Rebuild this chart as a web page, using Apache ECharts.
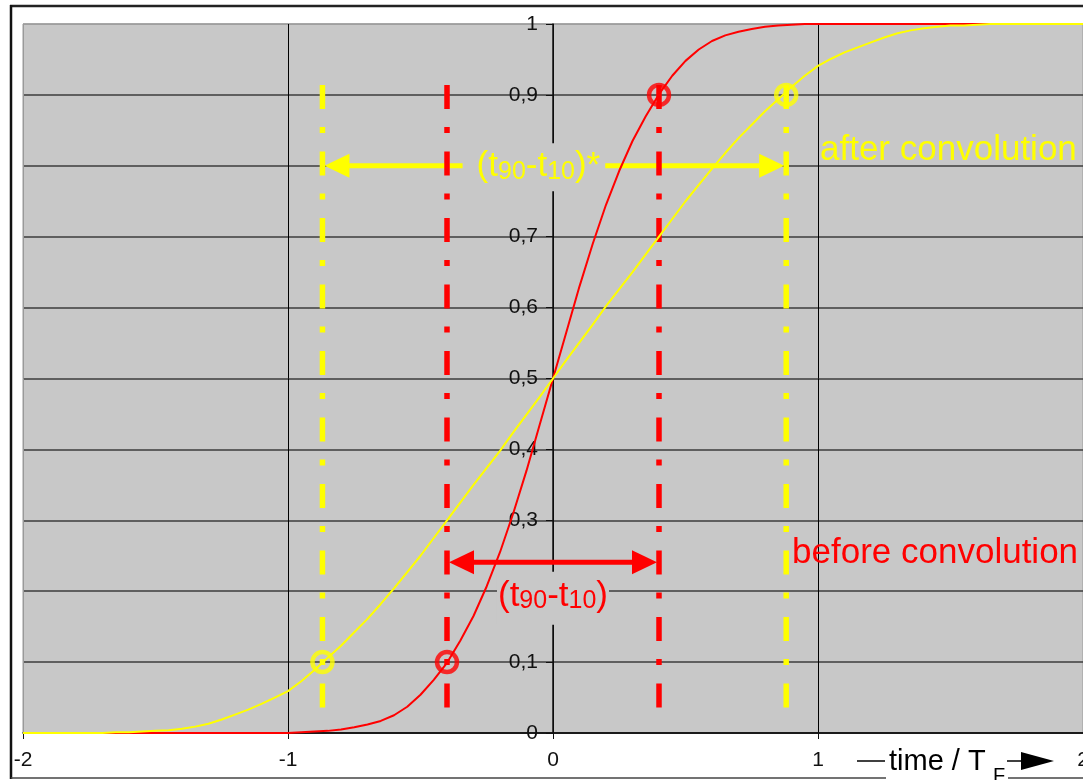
<!DOCTYPE html>
<html>
<head>
<meta charset="utf-8">
<script src="https://cdn.jsdelivr.net/npm/echarts@6/dist/echarts.min.js"></script>
<style>
  html, body { margin: 0; padding: 0; background: #ffffff; }
  #chart { width: 1083px; height: 780px; }
</style>
</head>
<body>
<div id="chart"></div>
<script>
// Normalised time axis (time / T_F)
const timeValues = [
  -2.00, -1.95, -1.90, -1.85, -1.80, -1.75, -1.70, -1.65, -1.60, -1.55,
  -1.50, -1.45, -1.40, -1.35, -1.30, -1.25, -1.20, -1.15, -1.10, -1.05,
  -1.00, -0.95, -0.90, -0.85, -0.80, -0.75, -0.70, -0.65, -0.60, -0.55,
  -0.50, -0.45, -0.40, -0.35, -0.30, -0.25, -0.20, -0.15, -0.10, -0.05,
   0.00,
   0.05,  0.10,  0.15,  0.20,  0.25,  0.30,  0.35,  0.40,  0.45,  0.50,
   0.55,  0.60,  0.65,  0.70,  0.75,  0.80,  0.85,  0.90,  0.95,  1.00,
   1.05,  1.10,  1.15,  1.20,  1.25,  1.30,  1.35,  1.40,  1.45,  1.50,
   1.55,  1.60,  1.65,  1.70,  1.75,  1.80,  1.85,  1.90,  1.95,  2.00
];

// Step response before convolution (red)
const beforeConvolution = [
  0, 0, 0, 0, 0, 0, 0, 0, 0, 0,
  0, 0, 0, 0, 0, 0, 0, 0, 0, 0,
  0, 0.001, 0.002, 0.003, 0.005, 0.008, 0.012, 0.017, 0.025, 0.037,
  0.054, 0.075, 0.099, 0.13, 0.165, 0.207, 0.255, 0.31, 0.37, 0.435,
  0.5,
  0.565, 0.63, 0.69, 0.745, 0.793, 0.835, 0.87, 0.901, 0.927, 0.948,
  0.964, 0.976, 0.984, 0.989, 0.993, 0.996, 0.998, 0.999, 1, 1,
  1, 1, 1, 1, 1, 1, 1, 1, 1, 1,
  1, 1, 1, 1, 1, 1, 1, 1, 1, 1
];

// Step response after convolution (yellow)
const afterConvolution = [
  0, 0, 0, 0, 0, 0, 0, 0.001, 0.001, 0.002,
  0.003, 0.004, 0.006, 0.009, 0.013, 0.019, 0.026, 0.033, 0.041, 0.05,
  0.059, 0.073, 0.089, 0.106, 0.123, 0.142, 0.161, 0.182, 0.204, 0.227,
  0.25, 0.275, 0.3, 0.325, 0.35, 0.374, 0.398, 0.424, 0.449, 0.474,
  0.5,
  0.526, 0.551, 0.576, 0.602, 0.626, 0.65, 0.675, 0.7, 0.725, 0.75,
  0.773, 0.796, 0.818, 0.839, 0.858, 0.877, 0.894, 0.911, 0.927, 0.941,
  0.951, 0.96, 0.967, 0.974, 0.981, 0.987, 0.991, 0.994, 0.996, 0.998,
  0.998, 0.999, 1, 1, 1, 1, 1, 1, 1, 1
];

// 10 % / 90 % crossing times
const beforeT10 = -0.4, beforeT90 = 0.4;
const afterT10 = -0.87, afterT90 = 0.88;
const level10 = 0.1, level90 = 0.9;

// Extent of the dash-dot marker lines and heights of the width arrows
const guideTop = 0.914, guideBottom = 0.032;
const afterArrowLevel = 0.8;
const beforeArrowLevel = 0.241;

const xTicks = { min: -2, max: 2, step: 1 };
const yTicks = { min: 0, max: 1, step: 0.1 };

const RED = '#ff0000';
const YELLOW = '#ffff00';
const PLOT_BG = '#c8c8c8';
const FONT = "'Liberation Sans', Arial, sans-serif";

const pairs = (ys) => timeValues.map((t, i) => [t, ys[i]]);

function arrowItem(params, api) {
  const x1 = api.value(0), x2 = api.value(1), y = api.value(2);
  const p1 = api.coord([x1, y]);
  const p2 = api.coord([x2, y]);
  const color = api.visual('color');
  const head = 25, half = 12;
  return {
    type: 'group',
    children: [
      { type: 'line', shape: { x1: p1[0] + head - 2, y1: p1[1], x2: p2[0] - head + 2, y2: p2[1] },
        style: { stroke: color, lineWidth: 5 } },
      { type: 'polygon', shape: { points: [[p1[0] + 2, p1[1]], [p1[0] + 2 + head, p1[1] - half], [p1[0] + 2 + head, p1[1] + half]] },
        style: { fill: color } },
      { type: 'polygon', shape: { points: [[p2[0] - 2, p2[1]], [p2[0] - 2 - head, p2[1] - half], [p2[0] - 2 - head, p2[1] + half]] },
        style: { fill: color } }
    ]
  };
}

function guideSeries(x, color) {
  return {
    type: 'line',
    z: 3,
    data: [[x, guideTop], [x, guideBottom]],
    symbol: 'none',
    silent: true,
    lineStyle: { color: color, width: 5.5, type: [24, 18, 6, 18.5] }
  };
}

const richWidth = {
  m: { fontSize: 35, lineHeight: 35, verticalAlign: 'bottom', fontFamily: FONT },
  s: { fontSize: 25, lineHeight: 17, verticalAlign: 'bottom', fontFamily: FONT }
};

const chart = echarts.init(document.getElementById('chart'), null, { renderer: 'canvas' });

chart.setOption({
  animation: false,
  backgroundColor: '#ffffff',
  grid: {
    left: 23, right: 0, top: 24, bottom: 47,
    containLabel: false, outerBoundsMode: 'none',
    show: true, backgroundColor: PLOT_BG, borderColor: '#9a9a9a', borderWidth: 1
  },
  xAxis: {
    type: 'value', min: xTicks.min, max: xTicks.max, interval: xTicks.step,
    axisLine: { onZero: false, lineStyle: { color: '#111', width: 1.5 } },
    axisTick: { show: true, length: 6, lineStyle: { color: '#111' } },
    axisLabel: { fontSize: 21, color: '#111', margin: 17, fontFamily: FONT },
    splitLine: { show: true, lineStyle: { color: ['#9a9a9a', '#000', '#000', '#000', '#9a9a9a'], width: 1 } }
  },
  yAxis: {
    type: 'value', min: yTicks.min, max: yTicks.max, interval: yTicks.step,
    position: 'left', offset: -530,
    axisLine: { show: true, onZero: false, lineStyle: { color: '#111', width: 1.5 } },
    axisTick: { show: true, length: 7, lineStyle: { color: '#111' } },
    axisLabel: {
      fontSize: 21, color: '#111', margin: 15, fontFamily: FONT,
      formatter: (v) => String(Math.round(v * 10) / 10).replace('.', ',')
    },
    splitLine: {
      show: true,
      lineStyle: {
        color: ['#111', '#3c3c3c', '#3c3c3c', '#3c3c3c', '#3c3c3c', '#3c3c3c',
                '#3c3c3c', '#3c3c3c', '#3c3c3c', '#3c3c3c', '#9a9a9a'],
        width: 1.5
      }
    }
  },
  series: [
    // width arrows
    {
      type: 'custom', z: 2, silent: true,
      renderItem: arrowItem,
      itemStyle: { color: YELLOW },
      encode: { x: [0, 1], y: 2 },
      data: [[afterT10, afterT90, afterArrowLevel]]
    },
    {
      type: 'custom', z: 2, silent: true,
      renderItem: arrowItem,
      itemStyle: { color: RED },
      encode: { x: [0, 1], y: 2 },
      data: [[beforeT10, beforeT90, beforeArrowLevel]]
    },
    // dash-dot markers at the 10 % / 90 % times
    guideSeries(afterT10, YELLOW),
    guideSeries(afterT90, YELLOW),
    guideSeries(beforeT10, RED),
    guideSeries(beforeT90, RED),
    // response curves
    {
      name: 'before convolution', type: 'line', z: 4,
      data: pairs(beforeConvolution),
      symbol: 'none',
      lineStyle: { color: RED, width: 2 }
    },
    {
      name: 'after convolution', type: 'line', z: 4,
      data: pairs(afterConvolution),
      symbol: 'none',
      lineStyle: { color: YELLOW, width: 2 }
    },
    // crossing points
    {
      type: 'scatter', z: 5, silent: true,
      symbol: 'circle', symbolSize: 20,
      itemStyle: { color: 'rgba(0,0,0,0)', borderColor: RED, borderWidth: 4.5 },
      data: [[beforeT10, level10], [beforeT90, level90]]
    },
    {
      type: 'scatter', z: 5, silent: true,
      symbol: 'circle', symbolSize: 20,
      itemStyle: { color: 'rgba(0,0,0,0)', borderColor: YELLOW, borderWidth: 4.5 },
      data: [[afterT10, level10], [afterT90, level90]]
    }
  ]
});

// Text annotations, placed through the grid's scales and drawn above the axes
const at = (x, y) => chart.convertToPixel({ gridIndex: 0 }, [x, y]);
const pYellowWidth = at(-0.072, 0.798);
const pRedWidth = at(0, 0.19);
const pAfter = at(1.0075, 0.8223);
const pBefore = at(0.902, 0.2539);

chart.setOption({
  graphic: [
    {
      type: 'text', z: 50,
      style: {
        x: pYellowWidth[0], y: pYellowWidth[1],
        text: '{m|(t}{s|90}{m|-t}{s|10}{m|)*}', rich: richWidth,
        fill: YELLOW, align: 'center', verticalAlign: 'middle',
        backgroundColor: PLOT_BG, padding: [6, 5, 7, 14]
      }
    },
    {
      type: 'text', z: 50,
      style: {
        x: pRedWidth[0], y: pRedWidth[1],
        text: '{m|(t}{s|90}{m|-t}{s|10}{m|)}', rich: richWidth,
        fill: RED, align: 'center', verticalAlign: 'middle',
        backgroundColor: PLOT_BG, padding: [7, 1, 11, 1]
      }
    },
    {
      type: 'text', z: 50,
      style: {
        x: pAfter[0], y: pAfter[1], text: 'after convolution',
        font: '35px ' + FONT, fill: YELLOW, align: 'left', verticalAlign: 'middle'
      }
    },
    {
      type: 'text', z: 50,
      style: {
        x: pBefore[0], y: pBefore[1], text: 'before convolution',
        font: '35px ' + FONT, fill: RED, align: 'left', verticalAlign: 'middle'
      }
    },
    // outer frame
    { type: 'line', shape: { x1: 10, y1: 6, x2: 1083, y2: 6 }, style: { stroke: '#222', lineWidth: 2.5 }, z: 100 },
    { type: 'line', shape: { x1: 11, y1: 5, x2: 11, y2: 779 }, style: { stroke: '#111', lineWidth: 2.5 }, z: 100 },
    { type: 'line', shape: { x1: 11, y1: 778, x2: 1083, y2: 778 }, style: { stroke: '#444', lineWidth: 1.5 }, z: 100 },
    // axis title: — time / T_F —►
    { type: 'rect', shape: { x: 886, y: 747, width: 122, height: 33 }, style: { fill: '#ffffff' }, z: 101 },
    { type: 'line', shape: { x1: 857, y1: 761, x2: 885, y2: 761 }, style: { stroke: '#000', lineWidth: 1.5 }, z: 102 },
    {
      type: 'text', z: 102,
      style: { x: 889, y: 762, text: 'time / T', font: '29px ' + FONT, fill: '#000', verticalAlign: 'middle', align: 'left' }
    },
    {
      type: 'text', z: 102,
      style: { x: 993, y: 766, text: 'F', font: '20px ' + FONT, fill: '#000', verticalAlign: 'top', align: 'left' }
    },
    { type: 'line', shape: { x1: 1007, y1: 761, x2: 1022, y2: 761 }, style: { stroke: '#000', lineWidth: 1.5 }, z: 102 },
    { type: 'polygon', shape: { points: [[1021, 752], [1054, 761], [1021, 770]] }, style: { fill: '#000' }, z: 102 }
  ]
});
</script>
</body>
</html>
